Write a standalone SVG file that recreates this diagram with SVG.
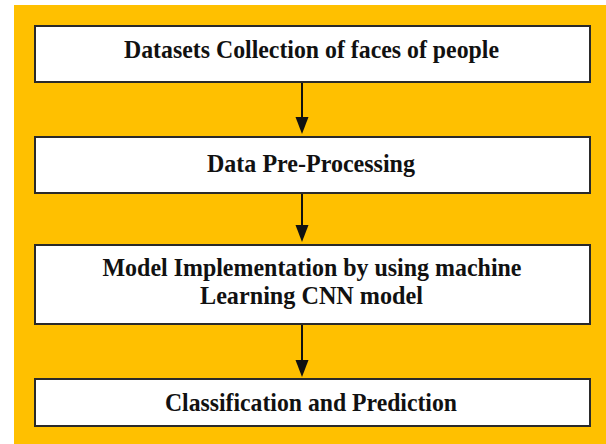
<svg xmlns="http://www.w3.org/2000/svg" width="606" height="444" viewBox="0 0 606 444">
<defs>
<style>
.box{fill:#ffffff;stroke:#2a2a2a;stroke-width:2}
.lbl{font-family:"Liberation Serif","Times New Roman",serif;font-weight:bold;font-size:25px;fill:#111;text-anchor:middle}
.conn{stroke:#111;stroke-width:2;fill:none}
</style>
</defs>
<rect x="0" y="0" width="606" height="444" fill="#ffffff"/>
<rect x="14" y="5" width="592" height="439" fill="#FFC000"/>
<g id="connectors">
<line class="conn" x1="302" y1="83" x2="302" y2="118"/>
<path d="M295.5,117 L308.5,117 L302,134 Z" fill="#111"/>
<line class="conn" x1="302" y1="194" x2="302" y2="226"/>
<path d="M295.5,225 L308.5,225 L302,242 Z" fill="#111"/>
<line class="conn" x1="302" y1="325" x2="302" y2="361"/>
<path d="M295.5,360 L308.5,360 L302,377 Z" fill="#111"/>
</g>
<g id="node1">
<rect class="box" x="35" y="26" width="555" height="56"/>
<text class="lbl" x="311.5" y="58" textLength="375" lengthAdjust="spacingAndGlyphs">Datasets Collection of faces of people</text>
</g>
<g id="node2">
<rect class="box" x="35" y="137" width="555" height="56"/>
<text class="lbl" x="311" y="172" textLength="208" lengthAdjust="spacingAndGlyphs">Data Pre-Processing</text>
</g>
<g id="node3">
<rect class="box" x="35" y="245" width="555" height="79"/>
<text class="lbl" x="312" y="276" textLength="419" lengthAdjust="spacingAndGlyphs">Model Implementation by using machine</text>
<text class="lbl" x="311.5" y="304" textLength="223" lengthAdjust="spacingAndGlyphs">Learning CNN model</text>
</g>
<g id="node4">
<rect class="box" x="35" y="379" width="555" height="47"/>
<text class="lbl" x="311" y="411" textLength="292" lengthAdjust="spacingAndGlyphs">Classification and Prediction</text>
</g>
</svg>
